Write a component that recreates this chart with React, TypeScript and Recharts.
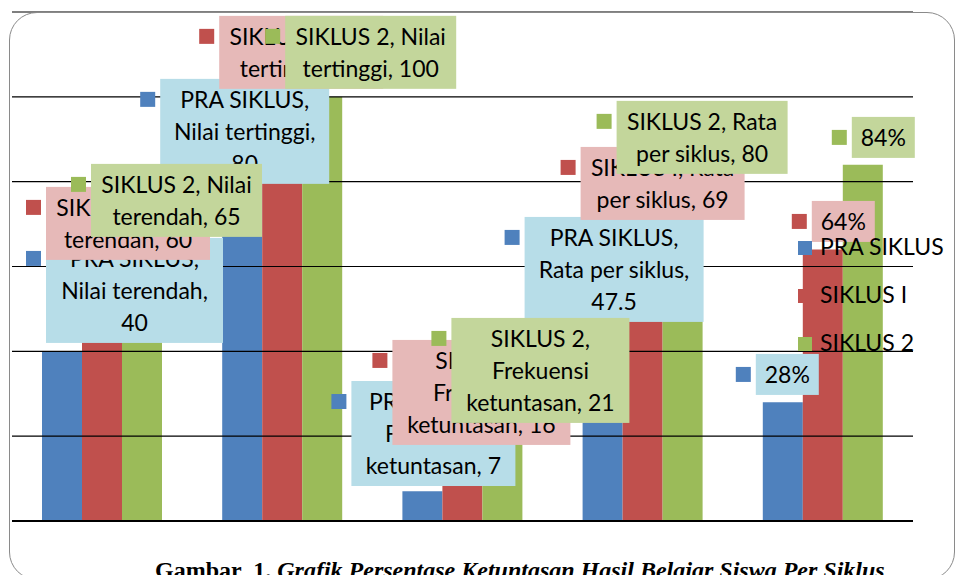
import React from 'react';
import { BarChart, Bar, XAxis, YAxis, ReferenceLine } from 'recharts';

const CATEGORIES = ['Nilai terendah', 'Nilai tertinggi', 'Frekuensi ketuntasan', 'Rata per siklus', 'Persentase ketuntasan'];
const SERIES = ['PRA SIKLUS', 'SIKLUS I', 'SIKLUS 2'];
const PRA_SIKLUS = [40, 80, 7, 47.5, 28];
const SIKLUS_1 = [60, 80, 16, 69, 64];
const SIKLUS_2 = [65, 100, 21, 80, 84];
const Y_TICKS = [0, 20, 40, 60, 80, 100, 120];
const PERCENT_CATEGORY = 'Persentase ketuntasan';
const CAPTION_LEAD = 'Gambar  1. ';
const CAPTION_TITLE = 'Grafik Persentase Ketuntasan Hasil Belajar Siswa Per Siklus';

const SERIES_VALUES = [PRA_SIKLUS, SIKLUS_1, SIKLUS_2];
const KEYS = ['pra', 's1', 's2'];

const rows = CATEGORIES.map((category, i) => ({
  category,
  pra: PRA_SIKLUS[i],
  s1: SIKLUS_1[i],
  s2: SIKLUS_2[i],
}));

const COLORS = ['#4F81BD', '#C0504D', '#9BBB59'];
const LABEL_FILLS = ['#B7DDE8', '#E6B9B8', '#C3D69B'];
const FONT = 'Lato, "Open Sans", sans-serif';

// where each data label box sits, relative to the top centre of its bar
type Spot = { dx: number; dy: number; w: number; lines: number[] };
const LABEL_SPOTS: Spot[][] = [
  [
    { dx: 72.5, dy: -113.4, w: 177, lines: [2, 2, 1] },
    { dx: 2.5, dy: -102.8, w: 169, lines: [2, 2, 1] },
    { dx: 11, dy: -110.3, w: 164, lines: [2, 1, 2] },
    { dx: 11.5, dy: -102.6, w: 179, lines: [2, 3, 1] },
    { dx: 4.5, dy: -48.3, w: 63, lines: [1] },
  ],
  [
    { dx: 26, dy: -79.6, w: 164, lines: [3, 2] },
    { dx: 19, dy: -165.8, w: 164, lines: [3, 2] },
    { dx: 19, dy: -113.2, w: 178, lines: [2, 1, 2] },
    { dx: 20, dy: -81.4, w: 164, lines: [3, 3] },
    { dx: 20.5, dy: -48.6, w: 63, lines: [1] },
  ],
  [
    { dx: 34.5, dy: -81.4, w: 171, lines: [3, 2] },
    { dx: 48.5, dy: -81, w: 171, lines: [3, 2] },
    { dx: 38, dy: -114, w: 178, lines: [2, 1, 2] },
    { dx: 19.5, dy: -80.8, w: 171, lines: [3, 3] },
    { dx: 20.5, dy: -47.8, w: 63, lines: [1] },
  ],
];

const LINE_H = 32;

const renderLabel = (s: number) => (props: any) => {
  const { x, y, width, index } = props;
  const value = SERIES_VALUES[s][index];
  const spot = LABEL_SPOTS[s][index];
  const cat = CATEGORIES[index];
  const text = cat === PERCENT_CATEGORY ? `${value}%` : `${SERIES[s]}, ${cat}, ${value}`;
  const words = text.split(' ');
  const lines: string[] = [];
  let k = 0;
  spot.lines.forEach((n) => {
    lines.push(words.slice(k, k + n).join(' '));
    k += n;
  });
  const h = lines.length * LINE_H + 9;
  const cx = x + width / 2 + spot.dx;
  const left = cx - spot.w / 2;
  const top = y + spot.dy;
  return (
    <g>
      <rect x={left} y={top} width={spot.w} height={h} fill={LABEL_FILLS[s]} />
      <rect x={left - 20} y={top + 13} width={15} height={15} fill={COLORS[s]} />
      {lines.map((ln, j) => (
        <text key={j} x={cx} y={top + 29 + LINE_H * j} textAnchor="middle" fontFamily={FONT} fontSize={23} fill="#000">
          {ln}
        </text>
      ))}
    </g>
  );
};

const W = 957;
const H = 575;
const MARGIN = { top: 12, right: 44, bottom: 54, left: 12 };

export default function App() {
  const layer: React.CSSProperties = { position: 'absolute', left: 0, top: 0 };
  return (
    <div style={{ position: 'absolute', left: 0, top: 0, width: W, height: H, background: '#fff', overflow: 'hidden' }}>
      <div style={layer}>
        <BarChart width={W} height={H} data={rows} margin={MARGIN} barCategoryGap={30} barGap={0}>
          <XAxis dataKey="category" hide />
          <YAxis domain={[0, 120]} ticks={Y_TICKS} hide />
          {Y_TICKS.map((t) => (
            <ReferenceLine key={t} y={t} stroke="#000" strokeWidth={t === 0 ? 2 : 1.2} />
          ))}
          {KEYS.map((key, s) => (
            <Bar key={key} dataKey={key} name={SERIES[s]} fill={COLORS[s]} isAnimationActive={false} />
          ))}
        </BarChart>
      </div>
      <div style={layer}>
        <BarChart width={W} height={H} data={rows} margin={MARGIN} barCategoryGap={30} barGap={0}>
          <XAxis dataKey="category" hide />
          <YAxis domain={[0, 120]} ticks={Y_TICKS} hide />
          {KEYS.map((key, s) => (
            <Bar key={key} dataKey={key} fill="transparent" shape={renderLabel(s)} isAnimationActive={false} />
          ))}
        </BarChart>
      </div>
      <svg style={layer} width={W} height={H}>
        {SERIES.map((name, s) => (
          <g key={name}>
            <rect x={798} y={241 + 48 * s} width={14} height={14} fill={COLORS[s]} />
            <text x={820} y={255 + 48 * s} fontFamily={FONT} fontSize={23} fill="#000">
              {name}
            </text>
          </g>
        ))}
        <text x={155} y={578} fontFamily='"Liberation Serif", "Times New Roman", serif' fontWeight="bold" fontSize={24} fill="#000" xmlSpace="preserve">
          <tspan>{CAPTION_LEAD}</tspan>
          <tspan fontStyle="italic">{CAPTION_TITLE}</tspan>
        </text>
      </svg>
      <div
        style={{
          position: 'absolute',
          left: 9,
          top: 12,
          width: 944,
          height: 566,
          border: '1.5px solid #8a8a8a',
          borderRadius: 28,
          pointerEvents: 'none',
        }}
      />
    </div>
  );
}
